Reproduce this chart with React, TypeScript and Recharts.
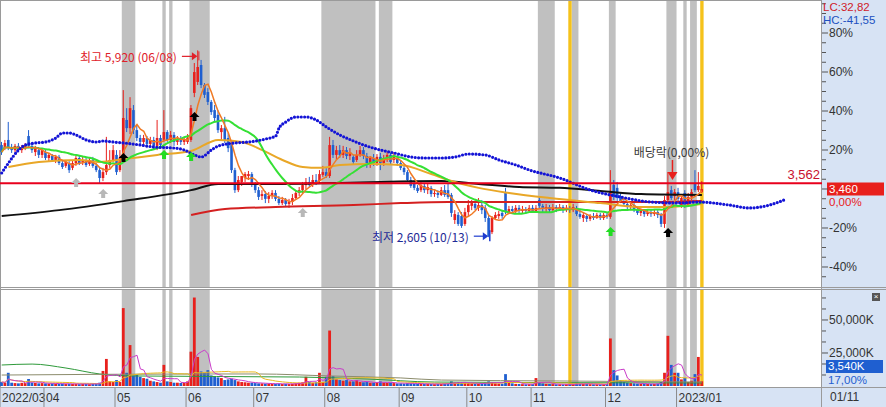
import React from 'react';
import { ComposedChart, Bar, Line, XAxis, YAxis, ReferenceArea, ReferenceLine, ReferenceDot } from 'recharts';

const FONT = '"Noto Sans CJK KR", "Noto Sans", sans-serif';
const NUMFONT = '"Liberation Sans", Arial, sans-serif';
const UP = '#e8201c';
const DOWN = '#1f5fd0';
const PANEL = '#d7e3f4';
const BORDER = '#9a9a9a';
const TEXT = '#333333';

const CHART_W = 886;
const AXIS_W = 64;
const PLOT_W = CHART_W - AXIS_W;
const PRICE_H = 288;
const VOL_H = 119;

// ---- categories (trading-day index) ----
const monthStartIdx = [0, 13, 34, 55, 75, 96, 118, 138, 157, 179, 200];
const monthLabels = ['2022/03', '04', '05', '06', '07', '08', '09', '10', '11', '12', '2023/01'];
const lastDateLabel = '01/11';
const forwardSlots = 35;

// ---- daily candles [open, high, low, close] ----
const mar = [
  [4240, 4295, 4065, 4115], [4185, 4330, 4150, 4275], [4330, 4650, 4150, 4205], [4205, 4260, 4100, 4150],
  [4150, 4260, 4115, 4225], [4225, 4275, 4115, 4150], [4150, 4240, 4100, 4185], [4185, 4275, 4150, 4240],
  [4400, 4505, 4185, 4225], [4225, 4260, 4100, 4150], [4115, 4225, 4045, 4185], [4150, 4205, 4010, 4065],
  [4065, 4185, 4010, 4150],
];
const apr = [
  [4115, 4150, 3975, 4010], [4010, 4100, 3955, 4065], [4045, 4080, 3940, 3975], [3975, 4065, 3920, 4030],
  [4030, 4065, 3885, 3920], [3920, 3975, 3815, 3850], [3870, 3975, 3835, 3940], [3920, 3955, 3745, 3795],
  [3835, 3975, 3795, 3920], [3920, 4045, 3870, 4010], [4010, 4045, 3885, 3920], [3940, 4030, 3885, 3975],
  [3975, 4010, 3850, 3885], [3905, 4010, 3870, 3975], [3975, 4030, 3835, 3870], [3870, 3920, 3760, 3795],
  [3795, 3850, 3565, 3655], [3655, 3835, 3600, 3760], [3760, 4385, 3710, 3885], [3885, 4150, 3835, 3975],
  [3975, 4240, 3940, 4150],
];
const may = [
  [4065, 4150, 3710, 3760], [3795, 4150, 3760, 4010], [4065, 5215, 4010, 4720], [4685, 4895, 4470, 4540],
  [4540, 5090, 4435, 4895], [4860, 4950, 4435, 4505], [4505, 4580, 4310, 4365], [4365, 4420, 4240, 4295],
  [4295, 4420, 4205, 4365], [4365, 4400, 4185, 4260], [4260, 4385, 4205, 4330], [4330, 4385, 4170, 4225],
  [4225, 4685, 4150, 4365], [4365, 4420, 4185, 4240], [4330, 4860, 4295, 4470], [4470, 4505, 4295, 4330],
  [4330, 4490, 4275, 4420], [4420, 4470, 4225, 4295], [4295, 4400, 4240, 4345], [4345, 4400, 4240, 4295],
  [4295, 4385, 4240, 4330],
];
const jun = [
  [4295, 4435, 4260, 4365], [4330, 4950, 4295, 4895], [5165, 5695, 5090, 5535], [5360, 5920, 5305, 5625],
  [5660, 5750, 5250, 5305], [5305, 5340, 5075, 5130], [5180, 5250, 4950, 5005], [5005, 5040, 4775, 4825],
  [4860, 4950, 4650, 4720], [4775, 4860, 4455, 4505], [4470, 4595, 4330, 4540], [4540, 4740, 4275, 4330],
  [4365, 4455, 4115, 4185], [4240, 4295, 3745, 3795], [3795, 3835, 3390, 3440], [3440, 3690, 3405, 3620],
  [3585, 3690, 3515, 3690], [3655, 3760, 3585, 3725], [3690, 3780, 3620, 3725], [3725, 3760, 3495, 3550],
];
const jul = [
  [3550, 3585, 3390, 3440], [3440, 3495, 3265, 3320], [3335, 3440, 3265, 3370], [3370, 3425, 3210, 3285],
  [3285, 3405, 3210, 3335], [3335, 3440, 3285, 3390], [3390, 3440, 3245, 3285], [3285, 3335, 3175, 3210],
  [3210, 3320, 3175, 3265], [3265, 3300, 3140, 3195], [3195, 3285, 3125, 3230], [3230, 3370, 3175, 3300],
  [3300, 3440, 3265, 3390], [3390, 3495, 3335, 3440], [3440, 3585, 3390, 3530], [3530, 3655, 3460, 3585],
  [3585, 3675, 3495, 3530], [3530, 3710, 3495, 3620], [3620, 3725, 3530, 3585], [3600, 3795, 3565, 3725],
  [3710, 3870, 3675, 3760],
];
const aug = [
  [3760, 3830, 3655, 3690], [3690, 4385, 3655, 4240], [4240, 4330, 4010, 4065], [4065, 4225, 3975, 4150],
  [4150, 4240, 4010, 4065], [4065, 4225, 4010, 4150], [4150, 4205, 3990, 4045], [4045, 4185, 3975, 4115],
  [4030, 4065, 3905, 3940], [3975, 4150, 3940, 4065], [4065, 4225, 4030, 4150], [4150, 4205, 3990, 4045],
  [4045, 4100, 3835, 3885], [3885, 4045, 3835, 4010], [4010, 4080, 3870, 3920], [3920, 4080, 3870, 4030],
  [4030, 4100, 3795, 3920], [3920, 4065, 3870, 4010], [4010, 4115, 3940, 4065], [4065, 4100, 3905, 3940],
  [3975, 4115, 3920, 4065], [4010, 4065, 3870, 3920],
];
const sep = [
  [3920, 3975, 3795, 3835], [3835, 3885, 3710, 3760], [3760, 3795, 3585, 3620], [3620, 3675, 3480, 3515],
  [3550, 3620, 3440, 3480], [3480, 3530, 3390, 3425], [3440, 3585, 3405, 3530], [3515, 3550, 3390, 3440],
  [3440, 3550, 3370, 3495], [3480, 3515, 3320, 3370], [3370, 3440, 3320, 3390], [3390, 3440, 3300, 3355],
  [3355, 3495, 3335, 3440], [3440, 3530, 3320, 3355], [3440, 3565, 3285, 3320], [3355, 3390, 2965, 3035],
  [2910, 3085, 2840, 3015], [3000, 3050, 2805, 2840], [2980, 3050, 2770, 2805], [2840, 3125, 2805, 3050],
];
const oct = [
  [3050, 3265, 2980, 3175], [3160, 3265, 3085, 3210], [3195, 3245, 3085, 3125], [3125, 3300, 3070, 3175],
  [3175, 3265, 3015, 3085], [3125, 3175, 2875, 2945], [2945, 3000, 2605, 2625], [2695, 2980, 2660, 2945],
  [2945, 3050, 2910, 3000], [2980, 3070, 2930, 3015], [3035, 3085, 2930, 2980], [3405, 3480, 3015, 3050],
  [3050, 3160, 3015, 3105], [3105, 3160, 3015, 3070], [3070, 3175, 3035, 3125], [3125, 3175, 3035, 3070],
  [3070, 3160, 3015, 3105], [3105, 3140, 3015, 3070], [3070, 3175, 3035, 3125],
];
const nov = [
  [3125, 3175, 3035, 3070], [3070, 3175, 3035, 3125], [3265, 3335, 3125, 3160], [3160, 3195, 3050, 3105],
  [3105, 3195, 3050, 3140], [3140, 3175, 3035, 3085], [3085, 3195, 3050, 3140], [3140, 3175, 3050, 3105],
  [3105, 3195, 3070, 3140], [3140, 3175, 3035, 3085], [3085, 3175, 3050, 3125], [3125, 3160, 3035, 3085],
  [3085, 3195, 3050, 3140], [3125, 3160, 2980, 3015], [3015, 3085, 2930, 2965], [2945, 3050, 2875, 3000],
  [2980, 3015, 2875, 2930], [2930, 3015, 2890, 2980], [2980, 3035, 2910, 2945], [2945, 3035, 2930, 3000],
  [3000, 3035, 2910, 2945], [2945, 3035, 2910, 3000],
];
const dec = [
  [3000, 3050, 2930, 2965], [2965, 3795, 2930, 3405], [3530, 3620, 3265, 3320], [3480, 3585, 3245, 3300],
  [3335, 3390, 3210, 3245], [3245, 3285, 3160, 3195], [3195, 3230, 3085, 3140], [3140, 3230, 3085, 3175],
  [3175, 3210, 3050, 3085], [3085, 3125, 3000, 3035], [3035, 3105, 2980, 3070], [3070, 3105, 2965, 3015],
  [3015, 3105, 2980, 3050], [3050, 3105, 2965, 3015], [3015, 3105, 2980, 3050], [3050, 3085, 2945, 3000],
  [3000, 3035, 2785, 2840], [2840, 3335, 2770, 3265], [3265, 3760, 3230, 3405], [3440, 3515, 3265, 3300],
  [3335, 3460, 3265, 3405],
];
const jan = [
  [3405, 3480, 3230, 3285], [3175, 3335, 3125, 3300], [3390, 3440, 3125, 3175], [3175, 3390, 3140, 3320],
  [3320, 3460, 3265, 3405], [3565, 3795, 3405, 3440], [3440, 3760, 3405, 3515], [3405, 3600, 3390, 3460],
];

// ---- daily volume (thousand shares) ----
const volMar = [3000, 2500, 10000, 2500, 2200, 2000, 2400, 2200, 5300, 2600, 2300, 2000, 2200];
const volApr = [2000, 1800, 2000, 1700, 1600, 1800, 1500, 1700, 1600, 1500, 1400, 1500, 1600, 1400, 1500, 1800, 2500, 11400, 20500, 3500, 3000];
const volMay = [4500, 3000, 59000, 10000, 31000, 8000, 8500, 7000, 6000, 5500, 4000, 3500, 3000, 2500, 16000, 3500, 3000, 2500, 2500, 2300, 2500];
const volJun = [3500, 26000, 67000, 22000, 11000, 10000, 12000, 8000, 7500, 6500, 6000, 4500, 5000, 5500, 4500, 3500, 3000, 2800, 2500, 2500];
const volJul = [2200, 2000, 2000, 1800, 1800, 1700, 1600, 1800, 1500, 1600, 1500, 1700, 2000, 2500, 2800, 7000, 3000, 2500, 2800, 10000, 3000];
const volAug = [7000, 42000, 7500, 5000, 4500, 4000, 4500, 3500, 3500, 4500, 3000, 2800, 3000, 2500, 2500, 2800, 3500, 2500, 2300, 2500, 2200, 2000];
const volSep = [2000, 1800, 2200, 2000, 1800, 1600, 1700, 1500, 1600, 1500, 1400, 1500, 1600, 1800, 2000, 3500, 2500, 2800, 2600, 2400];
const volOct = [2200, 2000, 1800, 1700, 1800, 2500, 3500, 3000, 2000, 1800, 1700, 9000, 2500, 2000, 1600, 1500, 1400, 1300, 1400];
const volNov = [1400, 6000, 3000, 2000, 1600, 1500, 1400, 1300, 1300, 1200, 1300, 1200, 1300, 2000, 1800, 1600, 1500, 1400, 1300, 1300, 1200, 1300];
const volDec = [1500, 36000, 12000, 8000, 4500, 3000, 2500, 2200, 2000, 1800, 1700, 1600, 1500, 1500, 1600, 1800, 3000, 10000, 38000, 16000, 10000];
const volJan = [10000, 5000, 6000, 3000, 4000, 9000, 22000, 3540];

// ---- long moving averages: [index, price] ----
const ma60Pts = [[2, 3850], [11, 3940], [23, 3975], [29, 3940], [36, 3990], [46, 4065], [56, 4135], [64, 4330], [71, 4295], [77, 4150], [83, 3975], [89, 3850], [94, 3835], [100, 3885], [109, 3905], [118, 3885], [127, 3725], [132, 3620], [141, 3480], [150, 3390], [162, 3300], [177, 3210], [189, 3140], [196, 3140], [207, 3195]];
const ma120Pts = [[0, 2980], [17, 3085], [36, 3245], [56, 3440], [64, 3550], [82, 3550], [100, 3565], [112, 3585], [130, 3600], [141, 3550], [153, 3495], [165, 3480], [177, 3425], [189, 3370], [207, 3355]];
const ma240Pts = [[56, 3000], [66, 3105], [81, 3140], [104, 3175], [118, 3210], [132, 3230], [156, 3230], [177, 3230], [195, 3230], [207, 3245]];
const cloudPts = [[0, 3744], [2, 3921], [5, 4152], [7, 4241], [10, 4277], [13, 4294], [16, 4365], [18, 4454], [20, 4454], [22, 4418], [25, 4330], [28, 4294], [30, 4312], [33, 4294], [36, 4277], [41, 4241], [45, 4205], [51, 4187], [54, 4152], [57, 4063], [59, 4028], [62, 4152], [64, 4223], [69, 4277], [73, 4294], [78, 4347], [81, 4400], [82, 4542], [84, 4649], [87, 4738], [90, 4738], [93, 4684], [96, 4560], [100, 4418], [104, 4312], [107, 4241], [112, 4152], [116, 4099], [121, 4028], [125, 4010], [130, 4010], [134, 4028], [138, 4081], [143, 4063], [147, 3975], [152, 3886], [156, 3797], [165, 3655], [174, 3442], [183, 3318], [192, 3229], [200, 3212], [206, 3229], [215, 3176], [221, 3123], [227, 3176], [232, 3283]];
const volLongPts = [[0, 15900], [9, 16600], [19, 13600], [29, 9100], [39, 7600], [88, 6800], [108, 5300], [128, 3000], [207, 2300]];
const volMidPts = [[0, 8300], [59, 9100], [76, 9100], [97, 7600], [118, 6100], [130, 4500], [165, 3800], [207, 3000]];

// ---- shaded days ----
const grayBands = [[36, 39], [48, 48], [50, 50], [56, 61], [95, 110], [112, 115], [159, 163], [169, 170], [180, 181], [197, 199], [202, 202], [204, 205]];
const yellowBands = [[168, 168], [207, 207]];

// ---- signals [index, price, kind] ----
const signalArrows = [[22, 3655, 'gray'], [30, 3460, 'gray'], [89, 3125, 'gray'], [36, 4100, 'black'], [57, 4825, 'black'], [197, 2770, 'black'], [48, 4150, 'green'], [56, 4115, 'green'], [180, 2785, 'green']];
const arrowColors: Record<string, string> = { gray: '#b8b8b8', black: '#000000', green: '#22dd22' };

const priorLevel = 3562;
const highDate = '06/08';
const lowDate = '10/13';
const exDiv = { index: 198, price: 3620, text: '배당락(0,00%)' };
const lcText = 'LC:32,82';
const hcText = 'HC:-41,55';
const volPctText = '17,00%';
const pricePctText = '0,00%';

const priceRange = [1721, 6796];
const volMax = 72700;
const pctTicks = [-45, -40, -35, -30, -25, -20, -15, -10, -5, 0, 5, 10, 15, 20, 25, 30, 35, 40, 45, 50, 55, 60, 65, 70, 75, 80, 85, 90, 95];
const volTicks = [8333, 16667, 25000, 33333, 41667, 50000, 58333, 66667];

// ---- build table ----
const ohlc = [...mar, ...apr, ...may, ...jun, ...jul, ...aug, ...sep, ...oct, ...nov, ...dec, ...jan];
const vols = [...volMar, ...volApr, ...volMay, ...volJun, ...volJul, ...volAug, ...volSep, ...volOct, ...volNov, ...volDec, ...volJan];
const N = ohlc.length;
const TOTAL = N + forwardSlots;
const BAND = PLOT_W / TOTAL;
const closes = ohlc.map((d) => d[3]);
const BASE = closes[N - 1];
const fmt = (n: number) => n.toLocaleString('en-US');

const sma = (arr: number[], n: number, i: number) => {
  const s = Math.max(0, i - n + 1);
  let t = 0;
  for (let k = s; k <= i; k++) t += arr[k];
  return t / (i - s + 1);
};

const rows: any[] = Array.from({ length: TOTAL }, (_, i) => {
  const r: any = { i };
  if (i < N) {
    const [o, h, l, c] = ohlc[i];
    r.o = o; r.h = h; r.l = l; r.c = c;
    r.range = [l, h];
    r.vol = vols[i];
    r.ma5 = sma(closes, 5, i);
    r.ma20 = sma(closes, 20, i);
    r.vma5 = sma(vols, 5, i);
    r.vma20 = sma(vols, 20, i);
  }
  return r;
});
const putSparse = (key: string, pts: number[][]) => pts.forEach(([i, v]) => { rows[i][key] = v; });
putSparse('ma60', ma60Pts);
putSparse('ma120', ma120Pts);
putSparse('ma240', ma240Pts);
putSparse('cloud', cloudPts);
putSparse('vlong', volLongPts);
putSparse('vmid', volMidPts);

let hiIdx = 0, loIdx = 0;
ohlc.forEach((d, i) => { if (d[1] > ohlc[hiIdx][1]) hiIdx = i; if (d[2] < ohlc[loIdx][2]) loIdx = i; });
const hiVal = ohlc[hiIdx][1];
const loVal = ohlc[loIdx][2];

// ---- renderers ----
const Candle = (props: any) => {
  const { x, y, width, height, payload } = props;
  if (!payload || payload.o == null) return <g />;
  const { o, h, l, c } = payload;
  const top = Math.min(y, y + height);
  const span = Math.abs(height);
  const k = h > l ? span / (h - l) : 0;
  const yo = top + (h - o) * k;
  const yc = top + (h - c) * k;
  const color = c >= o ? UP : DOWN;
  const cx = x + width / 2;
  return (
    <g>
      <line x1={cx} x2={cx} y1={top} y2={top + span} stroke={color} strokeWidth={1} />
      <rect x={cx - 1.3} y={Math.min(yo, yc)} width={2.6} height={Math.max(1, Math.abs(yo - yc))} fill={color} />
    </g>
  );
};

const VolBar = (props: any) => {
  const { x, y, width, height, payload } = props;
  if (!payload || payload.vol == null) return <g />;
  const cx = x + width / 2;
  const color = payload.c >= payload.o ? UP : DOWN;
  return <rect x={cx - 1.4} y={Math.min(y, y + height)} width={2.8} height={Math.abs(height)} fill={color} />;
};

const PriceTick = (props: any) => {
  const { y, payload } = props;
  const pct = Math.round((payload.value / BASE - 1) * 100);
  const major = pct % 20 === 0;
  return (
    <g>
      <line x1={PLOT_W} x2={PLOT_W + (major ? 6 : 4)} y1={y} y2={y} stroke="#555" />
      {major && pct !== 0 ? (
        <text x={PLOT_W + 7} y={y} dominantBaseline="central" fontSize={12} fill={TEXT} fontFamily={NUMFONT}>{`${pct}%`}</text>
      ) : null}
    </g>
  );
};

const VolTick = (props: any) => {
  const { y, payload } = props;
  const v = payload.value;
  const major = v % 25000 === 0;
  return (
    <g>
      <line x1={PLOT_W} x2={PLOT_W + (major ? 6 : 4)} y1={y} y2={y} stroke="#555" />
      {major ? (
        <text x={PLOT_W + 7} y={y} dominantBaseline="central" fontSize={12} fill={TEXT} fontFamily={NUMFONT}>{`${fmt(v)}K`}</text>
      ) : null}
    </g>
  );
};

const DateTick = (props: any) => {
  const { x, payload } = props;
  const k = monthStartIdx.indexOf(payload.value);
  if (k < 0) return <g />;
  const left = x - BAND / 2;
  return (
    <g>
      <line x1={left} x2={left} y1={100} y2={119} stroke="#8a8a8a" />
      <text x={left + 2} y={109.5} dominantBaseline="central" fontSize={12} fill={TEXT} fontFamily={NUMFONT}>{monthLabels[k]}</text>
    </g>
  );
};

const HighMark = (p: any) => {
  const { cx, cy } = p;
  const ty = cy + 6;
  const col = '#e0202a';
  return (
    <g>
      <text x={cx - 21} y={ty} textAnchor="end" dominantBaseline="central" fontSize={12} fill={col} fontFamily={FONT}>{`최고 ${fmt(hiVal)} (${highDate})`}</text>
      <line x1={cx - 16} x2={cx - 5} y1={ty} y2={ty} stroke={col} strokeWidth={1.2} />
      <polygon points={`${cx - 6},${ty - 4} ${cx - 0.5},${ty} ${cx - 6},${ty + 4}`} fill={col} />
      <line x1={cx + 1} x2={cx + 1} y1={ty - 5} y2={ty + 4} stroke={col} />
    </g>
  );
};

const LowMark = (p: any) => {
  const { cx, cy } = p;
  const ty = cy - 1;
  return (
    <g>
      <text x={cx - 20} y={ty} textAnchor="end" dominantBaseline="central" fontSize={12} fill="#1e2a96" fontFamily={FONT}>{`최저 ${fmt(loVal)} (${lowDate})`}</text>
      <line x1={cx - 15} x2={cx - 5} y1={ty} y2={ty} stroke="#1e3ccf" strokeWidth={1.2} />
      <polygon points={`${cx - 6},${ty - 4} ${cx - 0.5},${ty} ${cx - 6},${ty + 4}`} fill="#1e3ccf" />
      <line x1={cx + 1} x2={cx + 1} y1={ty - 6} y2={ty + 5} stroke="#1e3ccf" strokeWidth={1.5} />
    </g>
  );
};

const ExDivMark = (p: any) => {
  const { cx, cy } = p;
  const col = '#e8201c';
  return (
    <g>
      <text x={cx} y={cy - 28} textAnchor="middle" dominantBaseline="central" fontSize={12} fill="#3a3a3a" fontFamily={FONT}>{exDiv.text}</text>
      <line x1={cx + 1} x2={cx + 1} y1={cy - 20} y2={cy - 7} stroke={col} strokeWidth={1.5} />
      <polygon points={`${cx - 4},${cy - 8} ${cx + 6},${cy - 8} ${cx + 1},${cy}`} fill={col} />
    </g>
  );
};

const makeArrow = (color: string) => (p: any) => {
  const { cx, cy } = p;
  const d = `M${cx},${cy} L${cx + 5},${cy + 5} L${cx + 2},${cy + 5} L${cx + 2},${cy + 9} L${cx - 2},${cy + 9} L${cx - 2},${cy + 5} L${cx - 5},${cy + 5} Z`;
  return <path d={d} fill={color} />;
};

const PriorLabel = (p: any) => {
  const vb = p.viewBox || {};
  return (
    <text x={vb.x + vb.width - 2} y={vb.y - 9} textAnchor="end" dominantBaseline="central" fontSize={13} fill="#c8102e" fontFamily={NUMFONT}>{fmt(priorLevel)}</text>
  );
};

const CurLabel = (p: any) => {
  const vb = p.viewBox || {};
  const x0 = vb.x + vb.width + 5;
  const y = vb.y;
  return (
    <g>
      <rect x={x0} y={y - 6.5} width={57} height={13} fill="#e8201c" />
      <text x={x0 + 2} y={y + 0.5} dominantBaseline="central" fontSize={11.5} fill="#ffffff" fontFamily={NUMFONT}>{fmt(BASE)}</text>
      <text x={x0 + 2} y={y + 13.5} dominantBaseline="central" fontSize={11.5} fill="#e8201c" fontFamily={NUMFONT}>{pricePctText}</text>
    </g>
  );
};

const bandAreas = (prefix: string) => [
  ...grayBands.map(([a, b]) => (
    <ReferenceArea key={`${prefix}g${a}`} x1={a} x2={b} fill="#c0c0c0" fillOpacity={1} stroke="none" />
  )),
  ...yellowBands.map(([a, b]) => (
    <ReferenceArea key={`${prefix}y${a}`} x1={a} x2={b} fill="#f5c21b" fillOpacity={1} stroke="none" />
  )),
];

const lineProps = { dot: false, activeDot: false, connectNulls: true, isAnimationActive: false } as any;

const abs = (l: number, t: number, w: number, h: number, bg: string): React.CSSProperties => ({
  position: 'absolute', left: l, top: t, width: w, height: h, background: bg,
});

const txt = (l: number, t: number, color: string): React.CSSProperties => ({
  position: 'absolute', left: l, top: t, fontSize: 11.5, lineHeight: '13px', height: 13, color, fontFamily: NUMFONT, whiteSpace: 'nowrap',
});

export default function App() {
  return (
    <div style={{ position: 'absolute', left: 0, top: 0, width: 886, height: 407, background: '#ffffff', overflow: 'hidden', fontFamily: FONT }}>
      <div style={abs(PLOT_W, 0, AXIS_W, 407, PANEL)} />
      <div style={abs(0, 388, 886, 19, PANEL)} />
      <div style={abs(0, 0, PLOT_W, 1, BORDER)} />
      <div style={abs(0, 0, 1, 388, BORDER)} />
      <div style={abs(PLOT_W - 1, 0, 1, 407, BORDER)} />
      <div style={abs(0, 287, 886, 1, BORDER)} />
      <div style={abs(0, 289, 886, 1, BORDER)} />
      <div style={abs(0, 387, 886, 1, BORDER)} />

      <div style={{ position: 'absolute', left: 0, top: 0 }}>
        <ComposedChart width={CHART_W} height={PRICE_H} data={rows} margin={{ top: 1, right: 0, bottom: 1, left: 0 }}>
          <XAxis dataKey="i" hide />
          <YAxis orientation="right" width={AXIS_W} domain={priceRange} allowDataOverflow ticks={pctTicks.map((p) => BASE * (1 + p / 100))} interval={0} tick={PriceTick} axisLine={false} tickLine={false} />
          {bandAreas('p')}
          <Bar dataKey="range" shape={Candle} barSize={3} isAnimationActive={false} />
          <Line dataKey="ma240" stroke="#d42020" strokeWidth={2} type="monotone" {...lineProps} />
          <Line dataKey="ma120" stroke="#111111" strokeWidth={2} type="monotone" {...lineProps} />
          <Line dataKey="ma60" stroke="#e9a727" strokeWidth={2} type="monotone" {...lineProps} />
          <Line dataKey="ma20" stroke="#35e035" strokeWidth={2} type="monotone" {...lineProps} />
          <Line dataKey="ma5" stroke="#f07a25" strokeWidth={1.5} type="linear" {...lineProps} />
          <Line dataKey="cloud" stroke="#1414d6" strokeWidth={3.2} strokeDasharray="0 3.4" strokeLinecap="round" type="monotone" {...lineProps} />
          <ReferenceLine y={priorLevel} stroke="#e8001c" strokeWidth={2} label={PriorLabel} />
          <ReferenceLine y={BASE} stroke="none" strokeOpacity={0} label={CurLabel} />
          <ReferenceDot x={hiIdx} y={hiVal} shape={HighMark} />
          <ReferenceDot x={loIdx} y={loVal} shape={LowMark} />
          <ReferenceDot x={exDiv.index} y={exDiv.price} shape={ExDivMark} />
          {signalArrows.map(([i, v, kind]: any) => (
            <ReferenceDot key={`s${i}`} x={i} y={v} shape={makeArrow(arrowColors[kind])} />
          ))}
        </ComposedChart>
      </div>

      <div style={{ position: 'absolute', left: 0, top: PRICE_H }}>
        <ComposedChart width={CHART_W} height={VOL_H} data={rows} margin={{ top: 2, right: 0, bottom: 0, left: 0 }}>
          <XAxis dataKey="i" height={21} interval={0} tick={DateTick} axisLine={false} tickLine={false} />
          <YAxis orientation="right" width={AXIS_W} domain={[0, volMax]} allowDataOverflow ticks={volTicks} interval={0} tick={VolTick} axisLine={false} tickLine={false} />
          {bandAreas('v')}
          <Bar dataKey="vol" shape={VolBar} barSize={3} isAnimationActive={false} />
          <Line dataKey="vlong" stroke="#2e9a3a" strokeWidth={1} type="monotone" {...lineProps} />
          <Line dataKey="vmid" stroke="#8c8c6c" strokeWidth={1} type="monotone" {...lineProps} />
          <Line dataKey="vma20" stroke="#e8b820" strokeWidth={1} type="linear" {...lineProps} />
          <Line dataKey="vma5" stroke="#c93cc9" strokeWidth={1} type="linear" {...lineProps} />
        </ComposedChart>
      </div>

      <div style={txt(823, 1, '#d0202a')}>{lcText}</div>
      <div style={txt(823, 14, '#2050c0')}>{hcText}</div>
      <div style={{ ...txt(826, 360, '#ffffff'), width: 57, background: '#1f5fd0', paddingLeft: 2, boxSizing: 'border-box' }}>{`${fmt(vols[N - 1])}K`}</div>
      <div style={txt(828, 374, '#1f5fd0')}>{volPctText}</div>
      <div style={{ ...txt(830, 390, TEXT), fontSize: 12, lineHeight: '15px', height: 15 }}>{lastDateLabel}</div>
      <div style={{ position: 'absolute', left: 872, top: 293, width: 8, height: 8, background: '#555', color: '#fff', fontSize: 8, lineHeight: '8px', textAlign: 'center', fontFamily: NUMFONT }}>×</div>
    </div>
  );
}
